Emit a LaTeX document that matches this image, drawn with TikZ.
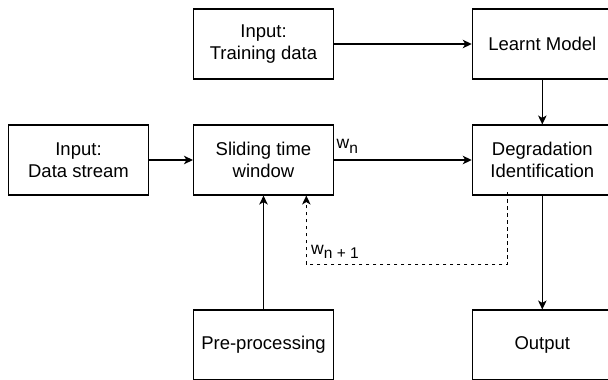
\documentclass[tikz,border=0pt]{standalone}
\usepackage{fontspec}
\setmainfont{Liberation Sans}
\usetikzlibrary{arrows.meta}
\begin{document}
\begin{tikzpicture}[x=1bp,y=-1bp,
  box/.style={draw=black,line width=1.1bp,minimum width=140bp,minimum height=70bp,inner sep=0pt,align=center,
    font=\fontsize{18.5bp}{21.7bp}\selectfont},
  conn/.style={line width=1.1bp,-{Stealth[length=9bp,width=8.5bp,inset=2.5bp]}},
  dconn/.style={conn,dash pattern=on 3.5bp off 3.5bp},
  lbl/.style={inner sep=0pt,anchor=base west,font=\fontsize{17.5bp}{21bp}\selectfont}]
\useasboundingbox (0,0) rectangle (608,379);
\clip (0,0) rectangle (608,379);
\node[box] (train) at (263.5,44) {Input:\\Training data};
\node[box] (model) at (542.3,44) {Learnt Model};
\node[box] (stream) at (78.5,160) {Input:\\Data stream};
\node[box] (win) at (263.5,160) {Sliding time\\window};
\node[box] (deg) at (542.3,160) {Degradation\\Identification};
\node[box] (pre) at (263.5,345) {Pre-processing};
\node[box] (out) at (542.3,345) {Output};
\coordinate (loop) at (400,264.3);
\coordinate (dstart) at ([xshift=-35.1bp,yshift=3.5bp]deg.south);
\coordinate (dend) at ([xshift=42.8bp]win.south);
\draw[conn] (train) -- (model);
\draw[conn] (model) -- (deg);
\draw[conn] (stream) -- (win);
\draw[conn] (win) -- (deg);
\draw[conn] (pre) -- (win);
\draw[conn] (deg) -- (out);
\draw[dconn] (dstart) -- (dstart |- loop) -- (dend |- loop) -- (dend);
\node[lbl] (wn) at (336.5,148.8) {w\raisebox{-4.5bp}{\fontsize{15.5bp}{15.5bp}\selectfont n}};
\node[lbl] (wn1) at (311,254) {w\raisebox{-4.5bp}{\fontsize{15.5bp}{15.5bp}\selectfont n + 1}};
\end{tikzpicture}
\end{document}
